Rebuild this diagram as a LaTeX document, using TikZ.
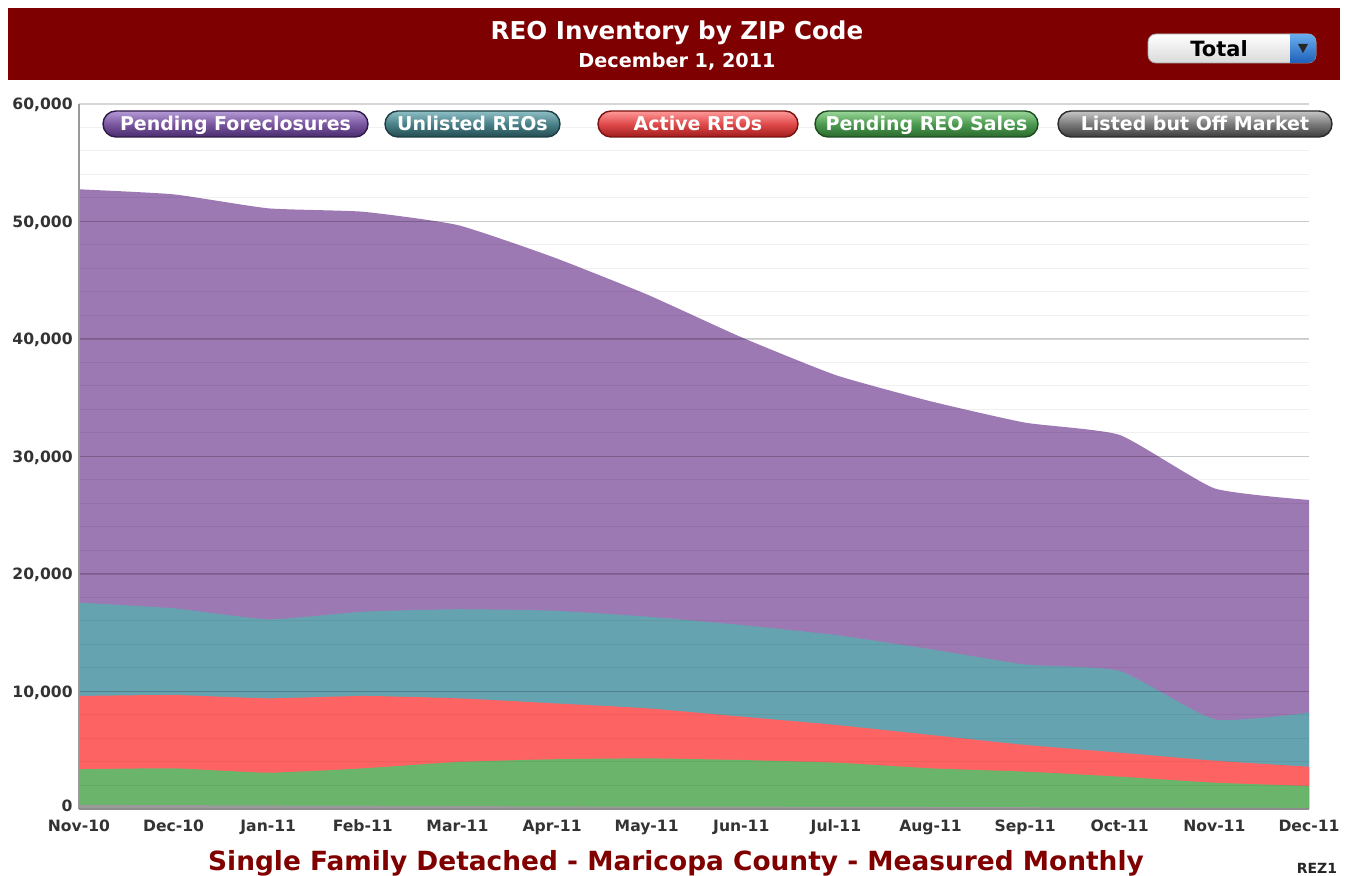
\documentclass[tikz,border=0pt]{standalone}
\usepackage{fontspec}
\setmainfont{DejaVu Sans}
\definecolor{maroon}{HTML}{7F0000}
\definecolor{subred}{HTML}{800000}
\definecolor{pfc}{HTML}{9D79B3}
\definecolor{urc}{HTML}{66A3B1}
\definecolor{arc}{HTML}{FE6363}
\definecolor{psc}{HTML}{6BB46C}
\definecolor{loc}{HTML}{9A9A9A}
\definecolor{labc}{HTML}{333333}
% legend pill colours
\definecolor{pfT}{HTML}{B59BD6}\definecolor{pfM}{HTML}{7A57A0}\definecolor{pfB}{HTML}{4B2C6E}\definecolor{pfD}{HTML}{2F1A47}
\definecolor{urT}{HTML}{8FC0C6}\definecolor{urM}{HTML}{4A8088}\definecolor{urB}{HTML}{234C52}\definecolor{urD}{HTML}{1C3D42}
\definecolor{arT}{HTML}{FF9A9A}\definecolor{arM}{HTML}{E04A4A}\definecolor{arB}{HTML}{A01C1C}\definecolor{arD}{HTML}{7A1010}
\definecolor{psT}{HTML}{9AD79A}\definecolor{psM}{HTML}{4C9A50}\definecolor{psB}{HTML}{2A6A2E}\definecolor{psD}{HTML}{1C4C1E}
\definecolor{loT}{HTML}{C8C8C8}\definecolor{loM}{HTML}{7A7A7A}\definecolor{loB}{HTML}{3C3C3C}\definecolor{loD}{HTML}{2A2A2A}
\definecolor{ddT}{HTML}{6AAEF0}\definecolor{ddB}{HTML}{1E5FB8}
\tikzset{
  lbl/.style={font=\bfseries\fontsize{7.8}{9}\selectfont, text=labc, inner sep=0pt, text height=5.7pt, text depth=0pt},
  pill/.style={rounded corners=6.5pt, minimum height=13pt, inner sep=0pt, text height=6.9pt, text depth=0pt,
    font=\bfseries\fontsize{9.5}{11}\selectfont, text=white, line width=0.7pt},
  hdr/.style={font=\bfseries\fontsize{#1}{#1}\selectfont, text=white, inner sep=0pt, text height=0.729*#1 pt, text depth=0pt},
  areaplot/.style={smooth, tension=0.3},
}
\begin{document}
\begin{tikzpicture}[x=0.5pt,y=-0.5pt]
\useasboundingbox (0,0) rectangle (1346,876);
\fill[white] (0,0) rectangle (1346,876);
% header band
\fill[maroon] (8,8) rectangle (1340,80);
\node[hdr=12.3] (title) at (677,31) {REO Inventory by ZIP Code};
\node[hdr=9.6] (date) at (677,61) {December 1, 2011};
% dropdown
\node[draw=gray!70, rounded corners=4pt, top color=white, bottom color=gray!30,
      minimum width=84pt, minimum height=14.5pt, inner sep=0pt] (dd) at (1232,48.5) {};
\shade[top color=ddT, bottom color=ddB] (1290,34) [rounded corners=4pt] -- (1316,34) -- (1316,63) [sharp corners] -- (1290,63) -- cycle;
\fill[black!85] (1298,44) -- (1308,44) -- (1303,53) -- cycle;
\node[font=\bfseries\fontsize{10.5}{11}\selectfont, text=black, inner sep=0pt, text height=7.65pt, text depth=0pt] (total) at (1219,48.5) {Total};
% plot area
\begin{scope}[shift={(39.5pt,-404.5pt)}, x=47.3077pt, y=5.875pt]
  \fill[pfc] (0,0) -- plot[areaplot] coordinates {(0,52.74) (1,52.31) (2,51.12) (3,50.83) (4,49.70) (5,47.0) (6,43.8) (7,40.15) (8,36.92) (9,34.7) (10,32.88) (11,31.83) (12,27.29) (13,26.30)} -- (13,0) -- cycle;
  \fill[urc] (0,0) -- plot[areaplot] coordinates {(0,17.56) (1,17.08) (2,16.14) (3,16.79) (4,17.00) (5,16.88) (6,16.37) (7,15.66) (8,14.8) (9,13.6) (10,12.3) (11,11.75) (12,7.63) (13,8.20)} -- (13,0) -- cycle;
  \fill[arc] (0,0) -- plot[areaplot] coordinates {(0,9.62) (1,9.70) (2,9.42) (3,9.62) (4,9.42) (5,9.00) (6,8.57) (7,7.86) (8,7.15) (9,6.30) (10,5.45) (11,4.79) (12,4.11) (13,3.60)} -- (13,0) -- cycle;
  \fill[psc] (0,0) -- plot[areaplot] coordinates {(0,3.38) (1,3.46) (2,3.09) (3,3.46) (4,4.0) (5,4.23) (6,4.31) (7,4.17) (8,3.94) (9,3.46) (10,3.18) (11,2.75) (12,2.24) (13,1.96)} -- (13,0) -- cycle;
  \fill[loc] (0,0) -- plot[areaplot] coordinates {(0,0.35) (1,0.33) (2,0.30) (3,0.28) (4,0.25) (5,0.22) (6,0.20) (7,0.20) (8,0.18) (9,0.17) (10,0.15) (11,0.14) (12,0.12) (13,0.10)} -- (13,0) -- cycle;
  \foreach \v in {2,4,...,58} \draw[black, opacity=0.06, line width=0.5pt] (0,\v) -- (13,\v);
  \foreach \v in {10,20,...,60} \draw[black, opacity=0.16, line width=0.6pt] (0,\v) -- (13,\v);
  \draw[gray!80, line width=0.6pt] (0,0) -- (0,60);
  \draw[gray!90, line width=1pt] (0,0) -- (13,0);
\end{scope}
% y labels
\node[lbl, anchor=east] (y60) at (73,104) {60,000};
\node[lbl, anchor=east] (y50) at (73,221.5) {50,000};
\node[lbl, anchor=east] (y40) at (73,339) {40,000};
\node[lbl, anchor=east] (y30) at (73,456.5) {30,000};
\node[lbl, anchor=east] (y20) at (73,574) {20,000};
\node[lbl, anchor=east] (y10) at (73,691.5) {10,000};
\node[lbl, anchor=east] (y0) at (73,806) {0};
% x labels
\foreach \m [count=\i from 0] in {Nov-10,Dec-10,Jan-11,Feb-11,Mar-11,Apr-11,May-11,Jun-11,Jul-11,Aug-11,Sep-11,Oct-11,Nov-11,Dec-11}
  \node[lbl] (xl\i) at ({79+94.615*\i},826) {\m};
% legend
\node[pill, draw=pfD, top color=pfT, bottom color=pfB, middle color=pfM, minimum width=132.5pt] (lpf) at (235.5,124) {Pending Foreclosures};
\node[pill, draw=urD, top color=urT, bottom color=urB, middle color=urM, minimum width=87.5pt] (lur) at (472.5,124) {Unlisted REOs};
\node[pill, draw=arD, top color=arT, bottom color=arB, middle color=arM, minimum width=100pt] (lar) at (698,124) {Active REOs};
\node[pill, draw=psD, top color=psT, bottom color=psB, middle color=psM, minimum width=111.5pt] (lps) at (926.5,124) {Pending REO Sales};
\node[pill, draw=loD, top color=loT, bottom color=loB, middle color=loM, minimum width=137pt] (llo) at (1195,124) {Listed but Off Market};
% footer
\node[font=\bfseries\fontsize{13.2}{15}\selectfont, text=subred, inner sep=0pt, text height=9.6pt, text depth=0pt] (sub) at (676,860.5) {Single Family Detached - Maricopa County - Measured Monthly};
\node[font=\bfseries\fontsize{7}{8}\selectfont, text=black!85, inner sep=0pt, text height=5.1pt, text depth=0pt] (rez) at (1317,868) {REZ1};
\end{tikzpicture}
\end{document}
